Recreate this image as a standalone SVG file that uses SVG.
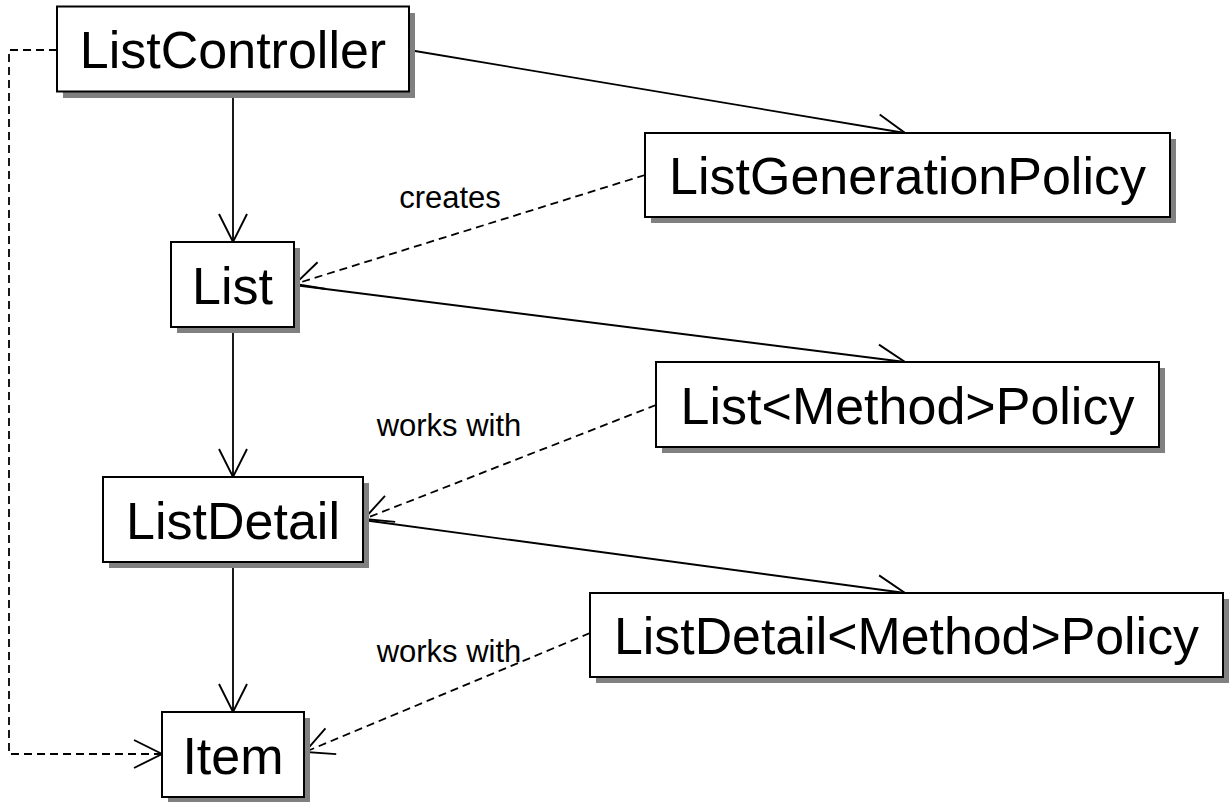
<svg xmlns="http://www.w3.org/2000/svg" width="1231" height="802" viewBox="0 0 1231 802">
  <style>
    .shadow { fill: #808080; stroke: none; }
    .box { fill: #ffffff; stroke: #000000; stroke-width: 2; }
    .name { font-family: "Liberation Sans", Arial, sans-serif; font-size: 52px; fill: #000; text-anchor: middle; }
    .lbl { font-family: "Liberation Sans", Arial, sans-serif; font-size: 31px; fill: #000; text-anchor: middle; }
    .edge { fill: none; stroke: #000; stroke-width: 1.8; marker-end: url(#open); }
    .dash { stroke-dasharray: 8 5; }
  </style>
  <defs>
    <marker id="open" markerUnits="userSpaceOnUse" markerWidth="40" markerHeight="40" viewBox="-30 -20 40 40" refX="0" refY="0" orient="auto" overflow="visible">
      <path d="M-28,-14 L0,0 L-28,14" fill="none" stroke="#000" stroke-width="1.9"/>
    </marker>
  </defs>
  <rect width="1231" height="802" fill="#ffffff"/>

  <g id="connectors">
    <line class="edge" x1="409" y1="50" x2="905" y2="133"/>
    <line class="edge" x1="233" y1="91" x2="233" y2="242"/>
    <line class="edge dash" x1="645" y1="175" x2="295" y2="284"/>
    <line class="edge" x1="294" y1="285" x2="905" y2="362"/>
    <line class="edge" x1="233" y1="327" x2="233" y2="477"/>
    <line class="edge dash" x1="656" y1="405" x2="364" y2="519"/>
    <line class="edge" x1="363" y1="520" x2="905" y2="593"/>
    <line class="edge" x1="233" y1="562" x2="233" y2="712"/>
    <line class="edge dash" x1="590" y1="633" x2="305" y2="752"/>
    <polyline class="edge dash" points="57,50 9,50 9,754 162,754"/>
  </g>

  <g id="ListController">
    <rect class="shadow" x="63" y="13" width="352" height="85"/>
    <rect class="box" x="57" y="6.5" width="352" height="85"/>
    <text class="name" x="233" y="68">ListController</text>
  </g>

  <g id="ListGenerationPolicy">
    <rect class="shadow" x="651" y="139" width="525" height="84"/>
    <rect class="box" x="645" y="133" width="525" height="84"/>
    <text class="name" x="907.5" y="194">ListGenerationPolicy</text>
  </g>

  <g id="List">
    <rect class="shadow" x="177" y="248" width="123" height="85"/>
    <rect class="box" x="171" y="242" width="123" height="85"/>
    <text class="name" x="232.5" y="304">List</text>
  </g>

  <g id="ListMethodPolicy">
    <rect class="shadow" x="662" y="368" width="503" height="85"/>
    <rect class="box" x="656" y="362" width="503" height="85"/>
    <text class="name" x="907.5" y="424">List&lt;Method&gt;Policy</text>
  </g>

  <g id="ListDetail">
    <rect class="shadow" x="109" y="483" width="260" height="85"/>
    <rect class="box" x="103" y="477" width="260" height="85"/>
    <text class="name" x="233" y="539">ListDetail</text>
  </g>

  <g id="ListDetailMethodPolicy">
    <rect class="shadow" x="596" y="599" width="633" height="84"/>
    <rect class="box" x="590" y="593" width="633" height="84"/>
    <text class="name" x="906.5" y="654" textLength="585" lengthAdjust="spacingAndGlyphs">ListDetail&lt;Method&gt;Policy</text>
  </g>

  <g id="Item">
    <rect class="shadow" x="168" y="718" width="142" height="85"/>
    <rect class="box" x="162" y="712" width="142" height="85"/>
    <text class="name" x="233" y="774">Item</text>
  </g>

  <g id="labels">
    <text class="lbl" x="450" y="208">creates</text>
    <text class="lbl" x="449" y="436">works with</text>
    <text class="lbl" x="449" y="662">works with</text>
  </g>
</svg>
